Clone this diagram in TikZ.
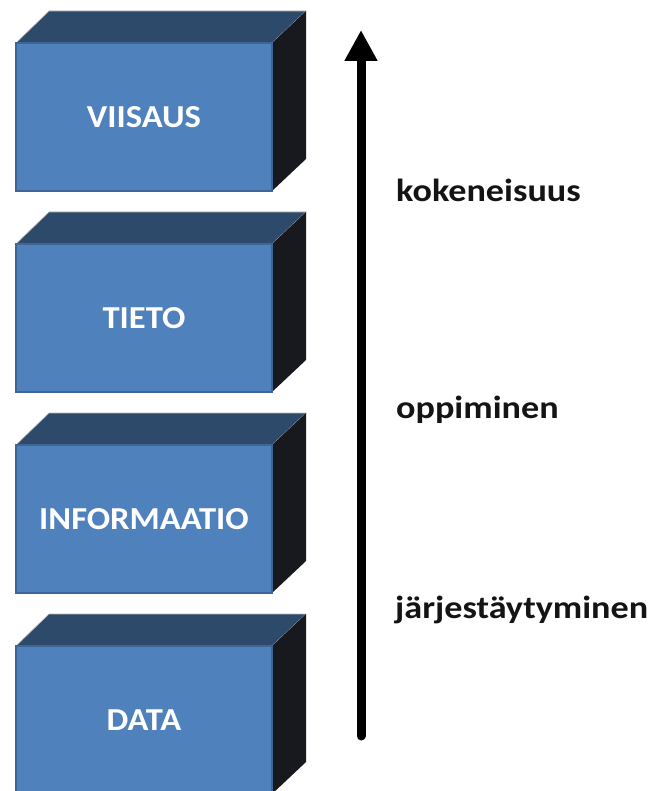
\documentclass[tikz,border=0pt]{standalone}
\usepackage{fontspec}
\setmainfont{Carlito}
\usetikzlibrary{arrows.meta}
\definecolor{frontblue}{HTML}{4F81BD}
\definecolor{frontedge}{HTML}{3E6593}
\definecolor{topblue}{HTML}{2E4A6A}
\definecolor{sidedark}{HTML}{17191E}
\pgfdeclarelayer{background}
\pgfsetlayers{background,main}
\begin{document}
\begin{tikzpicture}[x=1pt,y=-1pt,
  boxfront/.style={draw=frontedge, line width=2.5pt, fill=frontblue,
    minimum width=256pt, minimum height=148pt, inner sep=0pt, outer sep=0pt,
    text=white, font=\bfseries\fontsize{32}{38}\selectfont},
  topface/.style={fill=topblue, draw=gray!55, line width=0.6pt},
  sideface/.style={fill=sidedark},
  sidetext/.style={anchor=base west, inner sep=0pt, text=black!92,
    font=\bfseries\fontsize{32}{38}\selectfont},
  uparrow/.style={line width=9pt, line cap=round, -{Triangle[width=31pt,length=31pt]}}]
\useasboundingbox (0,0) rectangle (657,791);
\clip (0,0) rectangle (657,791);
\foreach \name/\txt/\cy in {viisaus/VIISAUS/117, tieto/TIETO/318, informaatio/INFORMAATIO/519, data/DATA/720}{
  \node[boxfront] (\name) at (144,\cy) {\scalebox{1.08}[1]{\txt}};
  \begin{pgfonlayer}{background}
    \filldraw[topface] (\name.north west) -- ++(33,-32) -- ([shift={(34,-32)}]\name.north east) -- (\name.north east) -- cycle;
    \fill[sideface] (\name.north east) -- ++(34,-32) -- ([shift={(34,-32)}]\name.south east) -- (\name.south east) -- cycle;
  \end{pgfonlayer}
}
\coordinate (abot) at (361,736);
\coordinate (atop) at (361,30);
\draw[uparrow] (abot) -- (atop);
\node[sidetext] (kok) at (396,202) {\scalebox{1.13}[1]{kokeneisuus}};
\node[sidetext] (opp) at (396,418) {\scalebox{1.13}[1]{oppiminen}};
\node[sidetext] (jar) at (395,618) {\scalebox{1.13}[1]{järjestäytyminen}};
\end{tikzpicture}
\end{document}
